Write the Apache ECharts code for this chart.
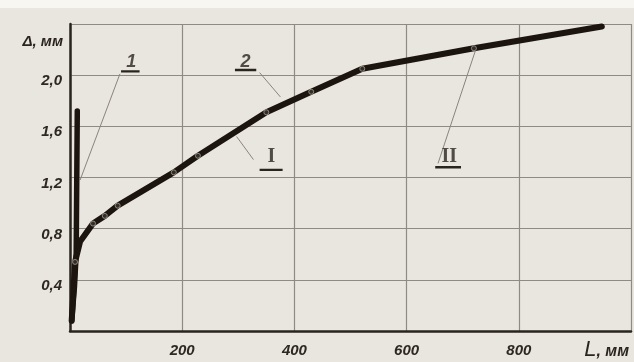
<!DOCTYPE html>
<html>
<head>
<meta charset="utf-8">
<script src="https://cdn.jsdelivr.net/npm/echarts@6/dist/echarts.min.js"></script>
<style>
html,body{margin:0;padding:0;background:#e9e6df;}
#c{width:634px;height:362px;}
</style>
</head>
<body>
<div id="c"></div>
<script>
// ---- data ----
var xTicks = [200, 400, 600, 800];
var yTickLabels = ['0,4', '0,8', '1,2', '1,6', '2,0'];
var xNameMain = 'L';
var xNameUnit = ', мм';
var yName = 'Δ, мм';

// curve 1 (vertical branch)
var c1L = [3, 8, 11, 13];
var c1D = [0.08, 0.35, 0.6, 1.72];

// curve 2 (main)
var c2L = [3, 6, 9, 18, 41, 62, 85, 185, 228, 350, 430, 521, 720, 948];
var c2D = [0.08, 0.30, 0.54, 0.70, 0.84, 0.90, 0.98, 1.24, 1.37, 1.71, 1.87, 2.05, 2.21, 2.38];
// measured points (markers)
var ptL = [9, 41, 62, 85, 185, 228, 350, 430, 521, 720];
var ptD = [0.54, 0.84, 0.90, 0.98, 1.24, 1.37, 1.71, 1.87, 2.05, 2.21];

// annotations
var annText = ['1', '2', 'I', 'II'];
var annL = [109, 313, 359, 676];
var annD = [2.10, 2.10, 1.36, 1.36];
var underL1 = [91, 294, 338, 651];
var underL2 = [124, 332, 379, 697];
var underD = [2.03, 2.04, 1.26, 1.28];
var leadFromL = [89, 338, 327, 656];
var leadFromD = [2.01, 2.02, 1.34, 1.31];
var leadToL = [18, 375, 297, 724];
var leadToD = [1.18, 1.83, 1.52, 2.21];

// ---- build ----
function zip(a, b) { return a.map(function (v, i) { return [v, b[i]]; }); }

var series = [];
series.push({
  type: 'line', data: zip(c1L, c1D), showSymbol: false,
  lineStyle: { color: '#1c150f', width: 5.5, cap: 'round', join: 'round' }, z: 3, silent: true
});
series.push({
  type: 'line', data: zip(c2L, c2D), showSymbol: false,
  lineStyle: { color: '#1c150f', width: 6, cap: 'round', join: 'round' }, z: 4, silent: true
});
series.push({
  type: 'scatter', data: zip(ptL, ptD), symbol: 'circle', symbolSize: 5,
  itemStyle: { color: '#3a332c', borderColor: '#a59d93', borderWidth: 1 }, z: 5, silent: true
});
for (var i = 0; i < annText.length; i++) {
  series.push({
    type: 'line', data: [[leadFromL[i], leadFromD[i]], [leadToL[i], leadToD[i]]],
    showSymbol: false, lineStyle: { color: '#8a847c', width: 1 }, z: 2, silent: true
  });
  series.push({
    type: 'line', data: [[underL1[i], underD[i]], [underL2[i], underD[i]]],
    showSymbol: false, lineStyle: { color: '#2a241e', width: 2.4 }, z: 2, silent: true
  });
}
series.push({
  type: 'scatter', symbolSize: 1, itemStyle: { color: 'rgba(0,0,0,0)' }, silent: true,
  data: annText.map(function (t, i) {
    var roman = t.indexOf('I') >= 0;
    return {
      value: [annL[i], annD[i]], name: t,
      label: roman
        ? { fontFamily: 'Liberation Serif', fontStyle: 'normal', fontSize: 20, fontWeight: 'bold' }
        : { fontFamily: 'Liberation Sans', fontStyle: 'italic', fontSize: 18, fontWeight: 'bold' }
    };
  }),
  label: {
    show: true, position: 'inside',
    formatter: function (p) { return p.name; },
    color: '#2a241e'
  }, z: 6
});

var labelFont = { fontSize: 15, fontStyle: 'italic', fontWeight: 'bold', fontFamily: 'Liberation Sans', color: '#2e2823' };

var chart = echarts.init(document.getElementById('c'), null, { renderer: 'canvas' });
chart.setOption({
  backgroundColor: '#e9e6df',
  animation: false,
  graphic: [{ type: 'rect', left: 0, top: 0, shape: { width: 634, height: 8 }, style: { fill: '#f7f6f3' }, silent: true }],
  grid: { left: 70, right: 2, top: 24, bottom: 31 },
  xAxis: {
    type: 'value', min: 0, max: 1000, interval: 200,
    name: '{a|' + xNameMain + '}{b|' + xNameUnit + '}', nameLocation: 'end', nameGap: -2,
    nameTextStyle: { align: 'right', verticalAlign: 'top', padding: [8, 0, 0, 0],
      color: '#2a241e',
      rich: {
        a: { fontSize: 22, fontStyle: 'italic', fontFamily: 'Liberation Sans', color: '#2a241e' },
        b: { fontSize: 16, fontStyle: 'italic', fontWeight: 'bold', fontFamily: 'Liberation Sans', color: '#2a241e', padding: [3, 0, 0, 0] }
      } },
    axisLine: { show: true, lineStyle: { color: '#2a241e', width: 2.5 } },
    axisTick: { show: false },
    splitLine: { show: true, lineStyle: { color: '#8f8a84', width: 1.2 } },
    axisLabel: Object.assign({ margin: 12,
      formatter: function (v) { return xTicks.indexOf(v) >= 0 ? String(v) : ''; } }, labelFont)
  },
  yAxis: {
    type: 'value', min: 0, max: 2.4, interval: 0.4,
    name: yName, nameLocation: 'end', nameGap: -18,
    nameTextStyle: { align: 'right', verticalAlign: 'middle', padding: [0, 7, 0, 0],
      fontSize: 15, fontStyle: 'italic', fontWeight: 'bold', fontFamily: 'Liberation Sans', color: '#2a241e' },
    axisLine: { show: true, lineStyle: { color: '#2a241e', width: 2.5 } },
    axisTick: { show: false },
    splitLine: { show: true, lineStyle: { color: '#8f8a84', width: 1.2 } },
    axisLabel: Object.assign({ margin: 8, verticalAlign: 'top', lineHeight: 12,
      formatter: function (v) {
        var k = Math.round(v / 0.4) - 1;
        return (k >= 0 && k < yTickLabels.length) ? yTickLabels[k] : '';
      } }, labelFont)
  },
  series: series
});
</script>
</body>
</html>
